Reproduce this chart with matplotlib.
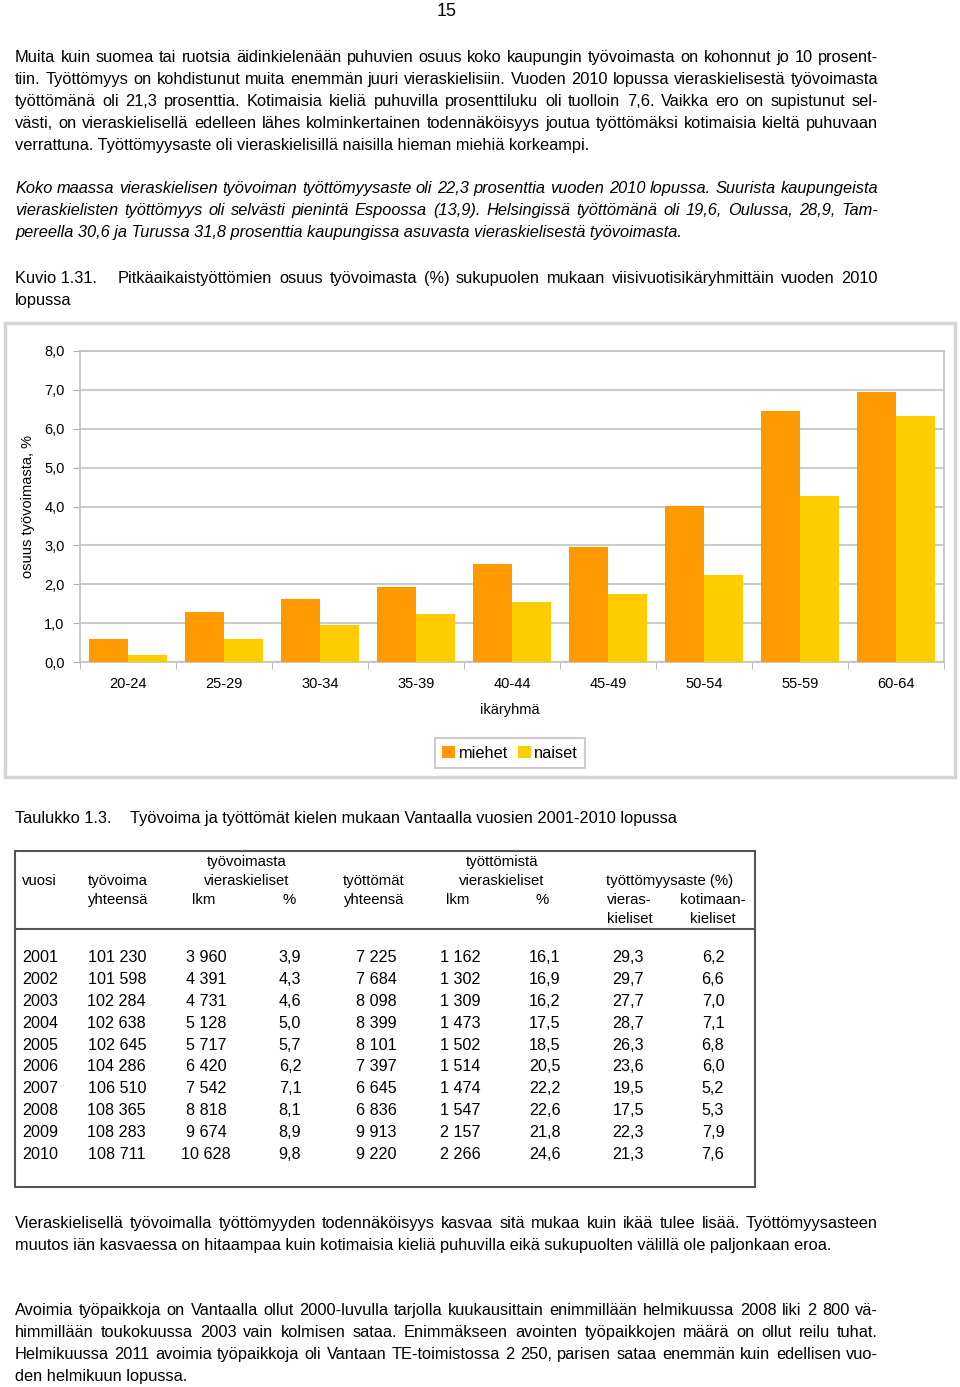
import matplotlib
matplotlib.use("Agg")
import matplotlib.pyplot as plt
import numpy as np
from matplotlib.patches import Rectangle
from matplotlib.lines import Line2D

W, H = 960, 1387
FONT = ["Liberation Sans", "DejaVu Sans"]
plt.rcParams["font.family"] = FONT
BODY = 11.8

# chart data
ages = ["20-24", "25-29", "30-34", "35-39", "40-44", "45-49", "50-54", "55-59", "60-64"]
miehet = [0.59, 1.29, 1.63, 1.94, 2.53, 2.96, 4.02, 6.46, 6.94]
naiset = [0.17, 0.58, 0.95, 1.23, 1.55, 1.75, 2.25, 4.27, 6.34]
yticks = [0, 1, 2, 3, 4, 5, 6, 7, 8]

# table data
years = [2001, 2002, 2003, 2004, 2005, 2006, 2007, 2008, 2009, 2010]
tyovoima = [101230, 101598, 102284, 102638, 102645, 104286, 106510, 108365, 108283, 108711]
vk_lkm = [3960, 4391, 4731, 5128, 5717, 6420, 7542, 8818, 9674, 10628]
vk_pct = [3.9, 4.3, 4.6, 5.0, 5.7, 6.2, 7.1, 8.1, 8.9, 9.8]
tyottomat = [7225, 7684, 8098, 8399, 8101, 7397, 6645, 6836, 9913, 9220]
tt_vk_lkm = [1162, 1302, 1309, 1473, 1502, 1514, 1474, 1547, 2157, 2266]
tt_vk_pct = [16.1, 16.9, 16.2, 17.5, 18.5, 20.5, 22.2, 22.6, 21.8, 24.6]
aste_vk = [29.3, 29.7, 27.7, 28.7, 26.3, 23.6, 19.5, 17.5, 22.3, 21.3]
aste_koti = [6.2, 6.6, 7.0, 7.1, 6.8, 6.0, 5.2, 5.3, 7.9, 7.6]

para1 = [
    "Muita kuin suomea tai ruotsia äidinkielenään puhuvien osuus koko kaupungin työvoimasta on kohonnut jo 10 prosent-",
    "tiin. Työttömyys on kohdistunut muita enemmän juuri vieraskielisiin. Vuoden 2010 lopussa vieraskielisestä työvoimasta",
    "työttömänä oli 21,3 prosenttia. Kotimaisia kieliä puhuvilla prosenttiluku oli tuolloin 7,6. Vaikka ero on supistunut sel-",
    "västi, on vieraskielisellä edelleen lähes kolminkertainen todennäköisyys joutua työttömäksi kotimaisia kieltä puhuvaan",
    "verrattuna. Työttömyysaste oli vieraskielisillä naisilla hieman miehiä korkeampi.",
]
para2 = [
    "Koko maassa vieraskielisen työvoiman työttömyysaste oli 22,3 prosenttia vuoden 2010 lopussa. Suurista kaupungeista",
    "vieraskielisten työttömyys oli selvästi pienintä Espoossa (13,9). Helsingissä työttömänä oli 19,6, Oulussa, 28,9, Tam-",
    "pereella 30,6 ja Turussa 31,8 prosenttia kaupungissa asuvasta vieraskielisestä työvoimasta.",
]
para3 = [
    "Vieraskielisellä työvoimalla työttömyyden todennäköisyys kasvaa sitä mukaa kuin ikää tulee lisää. Työttömyysasteen",
    "muutos iän kasvaessa on hitaampaa kuin kotimaisia kieliä puhuvilla eikä sukupuolten välillä ole paljonkaan eroa.",
]
para4 = [
    "Avoimia työpaikkoja on Vantaalla ollut 2000-luvulla tarjolla kuukausittain enimmillään helmikuussa 2008 liki 2 800 vä-",
    "himmillään toukokuussa 2003 vain kolmisen sataa. Enimmäkseen avointen työpaikkojen määrä on ollut reilu tuhat.",
    "Helmikuussa 2011 avoimia työpaikkoja oli Vantaan TE-toimistossa 2 250, parisen sataa enemmän kuin edellisen vuo-",
    "den helmikuun lopussa.",
]

fig = plt.figure(figsize=(W / 100, H / 100), dpi=100)
renderer = fig.canvas.get_renderer()


def fx(x):
    return x / W


def fy(y):
    return 1 - y / H


def base(y, size):
    # text drawn on its baseline, y given as the centre of the capitals
    return fy(y + 0.31 * size * 100 / 72)


def put(x, y, s, ha="left", size=BODY, **kw):
    return fig.text(fx(x), base(y, size), s, ha=ha, va="baseline", fontsize=size, **kw)


def justify(x0, x1, y, s, size=BODY, **kw):
    words = s.split(" ")
    texts = [fig.text(0, 0, w, va="baseline", fontsize=size, **kw) for w in words]
    widths = [t.get_window_extent(renderer).width for t in texts]
    gap = (x1 - x0 - sum(widths)) / max(len(words) - 1, 1)
    x = x0
    for t, w in zip(texts, widths):
        t.set_position((fx(x), base(y, size)))
        x += w + gap


def paragraph(lines, y0, step=22, **kw):
    for i, s in enumerate(lines):
        y = y0 + i * step
        if i < len(lines) - 1:
            justify(15, 878, y, s, **kw)
        else:
            put(15, y, s, **kw)


put(447, 10, "15", ha="center", size=13)
paragraph(para1, 57)
paragraph(para2, 188, style="italic")
put(15, 278, "Kuvio 1.31.")
justify(118, 878, 278, "Pitkäaikaistyöttömien osuus työvoimasta (%) sukupuolen mukaan viisivuotisikäryhmittäin vuoden 2010")
put(15, 300, "lopussa")

# chart frame
fig.patches.append(Rectangle((fx(5), fy(777)), fx(950), (777 - 323) / H, transform=fig.transFigure,
                             fill=False, edgecolor="#d4d4d4", linewidth=2.5))

ax = fig.add_axes([fx(80), fy(662), fx(864), 311 / H])
x = np.arange(len(ages))
bw = 0.41
ax.bar(x - bw / 2, miehet, bw, color="#ff9900", label="miehet", zorder=3)
ax.bar(x + bw / 2, naiset, bw, color="#ffcc00", label="naiset", zorder=3)
ax.set_xlim(-0.5, len(ages) - 0.5)
ax.set_ylim(0, 8)
ax.set_yticks(yticks)
ax.set_yticklabels([f"{v:.1f}".replace(".", ",") for v in yticks], fontsize=10.5)
ax.set_xticks(x)
ax.set_xticklabels(ages, fontsize=10.5)
ax.set_xticks(np.arange(-0.5, len(ages)), minor=True)
ax.tick_params(axis="x", which="major", length=0, pad=11)
ax.tick_params(axis="x", which="minor", length=5, color="#b0b0b0")
ax.tick_params(axis="y", length=5, color="#b0b0b0", pad=6)
ax.grid(axis="y", color="#cccccc", linewidth=1.5, zorder=0)
for sp in ax.spines.values():
    sp.set_color("#c0c0c0")
    sp.set_linewidth(1.2)
ax.set_ylabel("osuus työvoimasta, %", fontsize=10.5)
ax.yaxis.set_label_coords(-0.052, 0.5)
fig.text(fx(510), fy(710), "ikäryhmä", ha="center", va="center", fontsize=10.5)
leg = ax.legend(loc="center", bbox_to_anchor=((510 - 80) / 864, (662 - 753) / 311), ncol=2,
                frameon=True, fancybox=False, edgecolor="#c0c0c0", fontsize=11.8,
                handlelength=0.8, handleheight=0.8, handletextpad=0.2, columnspacing=0.6,
                borderpad=0.45)
leg.get_frame().set_linewidth(1.5)

# table
put(15, 818, "Taulukko 1.3.")
put(130, 818, "Työvoima ja työttömät kielen mukaan Vantaalla vuosien 2001-2010 lopussa")
fig.patches.append(Rectangle((fx(15), fy(1187)), fx(740), (1187 - 851) / H, transform=fig.transFigure,
                             fill=False, edgecolor="#555555", linewidth=1.5))
fig.lines.append(Line2D([fx(15), fx(755)], [fy(929), fy(929)], transform=fig.transFigure,
                        color="#555555", linewidth=1.5))

hs = 10.7
put(247, 861, "työvoimasta", ha="center", size=hs)
put(502, 861, "työttömistä", ha="center", size=hs)
put(22, 880, "vuosi", size=hs)
put(88, 880, "työvoima", size=hs)
put(247, 880, "vieraskieliset", ha="center", size=hs)
put(374, 880, "työttömät", ha="center", size=hs)
put(502, 880, "vieraskieliset", ha="center", size=hs)
put(670, 880, "työttömyysaste (%)", ha="center", size=hs)
put(88, 899, "yhteensä", size=hs)
put(204, 899, "lkm", ha="center", size=hs)
put(289, 899, "%", ha="center", size=hs)
put(374, 899, "yhteensä", ha="center", size=hs)
put(458, 899, "lkm", ha="center", size=hs)
put(542, 899, "%", ha="center", size=hs)
put(607, 899, "vieras-", size=hs)
put(713, 899, "kotimaan-", ha="center", size=hs)
put(607, 918, "kieliset", size=hs)
put(713, 918, "kieliset", ha="center", size=hs)


def num(v):
    return f"{v:,}".replace(",", " ")


def dec(v):
    return f"{v:.1f}".replace(".", ",")


ds = 11.6
for i, yr in enumerate(years):
    y = 957 + i * 21.9
    put(22, y, str(yr), size=ds)
    put(146, y, num(tyovoima[i]), ha="right", size=ds)
    put(206, y, num(vk_lkm[i]), ha="center", size=ds)
    put(290, y, dec(vk_pct[i]), ha="center", size=ds)
    put(376, y, num(tyottomat[i]), ha="center", size=ds)
    put(460, y, num(tt_vk_lkm[i]), ha="center", size=ds)
    put(545, y, dec(tt_vk_pct[i]), ha="center", size=ds)
    put(628, y, dec(aste_vk[i]), ha="center", size=ds)
    put(713, y, dec(aste_koti[i]), ha="center", size=ds)

paragraph(para3, 1223)
paragraph(para4, 1310)

fig.savefig("out.png", dpi=100)
